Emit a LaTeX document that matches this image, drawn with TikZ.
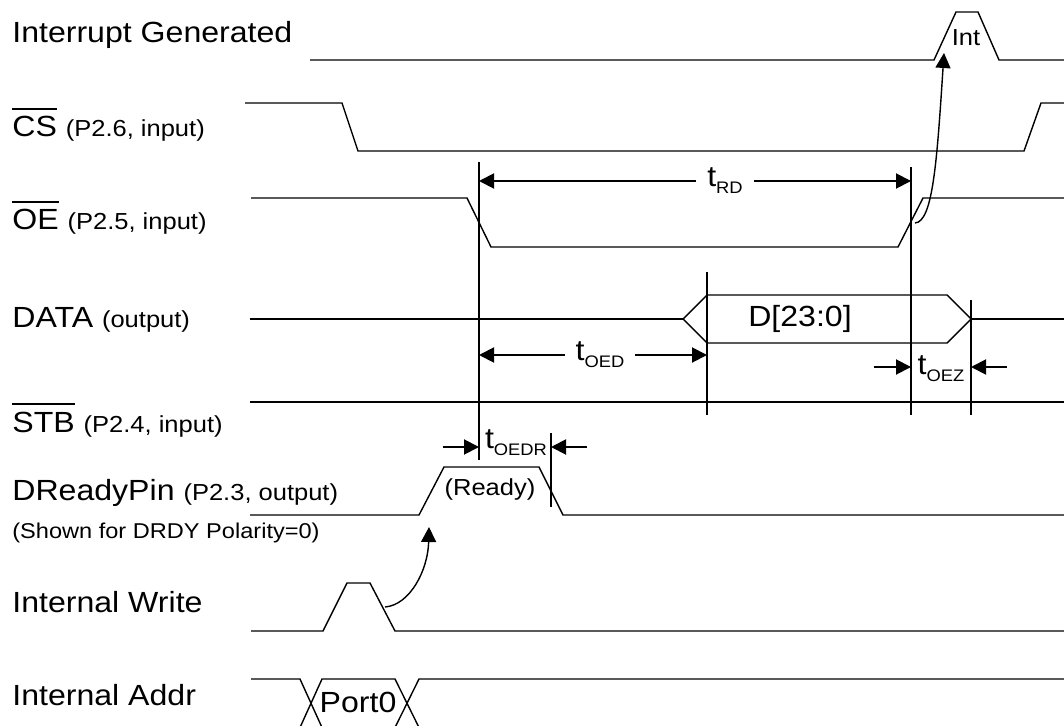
\documentclass[tikz,border=0pt]{standalone}
\usepackage{fontspec}
\setmainfont{Liberation Sans}[FakeStretch=1.1]
\usepackage{tikz}
\usetikzlibrary{arrows.meta}
\newcommand{\bigsz}{\fontsize{16.6pt}{19pt}\selectfont}
\newcommand{\pinsz}{\fontsize{13.2pt}{15pt}\selectfont}
\newcommand{\notesz}{\fontsize{12.2pt}{14pt}\selectfont}
\newcommand{\tsub}[1]{t\raisebox{-4pt}{\fontsize{9.5pt}{10pt}\selectfont #1}}
\newcommand{\ovl}[1]{\vbox{\hrule height 0.7pt\kern 4pt\hbox{#1}}}
\tikzset{
>={Triangle[length=0.3cm,width=0.3cm]}, % filled heads as in the sheet
wave/.style={line width=0.8pt, line join=miter}, % signal traces
marker/.style={line width=1.1pt}, % timing reference lines
dim/.style={->, line width=1.1pt},
signame/.style={anchor=base west, inner sep=0pt, font=\bigsz},
tlabel/.style={inner xsep=6pt, inner ysep=1pt, font=\bigsz},
}

\begin{document}
\begin{tikzpicture}[x=0.02cm, y=-0.02cm]
  \clip (0,0) rectangle (1064,726);

  % signal names
  \node[signame] (nint) at (12,43) {Interrupt Generated};
  \node[signame] (ncs) at (12,137) {\ovl{CS} {\pinsz (P2.6, input)}};
  \node[signame] (noe) at (12,230) {\ovl{OE} {\pinsz (P2.5, input)}};
  \node[signame] (ndata) at (12,327) {DATA {\pinsz (output)}};
  \node[signame] (nstb) at (12,432) {\ovl{STB} {\pinsz (P2.4, input)}};
  \node[signame] (nrdy) at (12,500) {DReadyPin {\pinsz (P2.3, output)}};
  \node[signame, font=\notesz] (npol) at (12,538) {(Shown for DRDY Polarity=0)};
  \node[signame] (nwr) at (12,612) {Internal Write};
  \node[signame] (naddr) at (12,705) {Internal Addr};

  % traces
  \draw[wave] (310,60) -- (934,60) -- (956,12) -- (978,12) -- (999,60) -- (1064,60);
  \draw[wave] (245,103) -- (342,103) -- (358,151) -- (1024,151) -- (1041,103) -- (1064,103);
  \draw[wave] (251,198) -- (467,198) -- (491,247) -- (898,247) -- (923,198) -- (1064,198);
  \draw[wave] (250,319) -- (683,319);
  \draw[wave] (683,319) -- (707,295) -- (947,295) -- (971,319) -- (947,343) -- (707,343) -- cycle;
  \draw[wave] (971,319) -- (1064,319);
  \draw[wave] (250,402) -- (1064,402);
  \draw[wave] (250,515) -- (419,515) -- (444,467) -- (539,467) -- (563,515) -- (1064,515);
  \draw[wave] (251,631) -- (323,631) -- (347,583) -- (370,583) -- (395,631) -- (1064,631);
  \draw[wave] (251,679) -- (300,679) -- (322,727.5) -- (395,727.5) -- (419,679) -- (1064,679);
  \draw[wave] (251,727.5) -- (300,727.5) -- (322,679) -- (395,679) -- (419,727.5) -- (1064,727.5);

  \node[font=\pinsz] (int) at (966,38) {Int};
  \node[font=\bigsz] (dbus) at (800,319) {D[23:0]};
  \node[font=\pinsz] (ready) at (490,489) {(Ready)};
  \node[font=\bigsz] (port) at (358,702) {Port0};

  % reference lines
  \draw[marker] (479,162) -- (479,460);
  \draw[marker] (911,167) -- (911,415);
  \draw[marker] (707,272) -- (707,415);
  \draw[marker] (971,300) -- (971,415);
  \draw[marker] (551,433) -- (551,507);

  % timing parameters
  \node[tlabel] (trd) at (725,181) {\tsub{RD}};
  \node[tlabel] (toed) at (600,355) {\tsub{OED}};
  \node[tlabel, inner xsep=0pt] (toez) at (941,369) {\tsub{OEZ}};
  \node[tlabel, inner xsep=0pt] (toedr) at (516,443) {\tsub{OEDR}};
  \coordinate (rdA) at (479,181);
  \coordinate (rdB) at (911,181);
  \coordinate (oedA) at (479,355);
  \coordinate (oedB) at (707,355);
  \coordinate (oezA) at (911,367);
  \coordinate (oezB) at (971,367);
  \coordinate (oezL) at (874,367);
  \coordinate (oezR) at (1007,367);
  \coordinate (drA) at (479,447);
  \coordinate (drB) at (551,447);
  \coordinate (drL) at (443,447);
  \coordinate (drR) at (587,447);

  \path[dim]
  (trd) edge (rdA) edge (rdB)
  (toed) edge (oedA) edge (oedB)
  (oezL) edge (oezA)
  (oezR) edge (oezB)
  (drL) edge (drA)
  (drR) edge (drB);

  % cause and effect
  \coordinate (oerise) at (915,223);
  \coordinate (inttip) at (944,53);
  \coordinate (wrfall) at (385,607);
  \coordinate (rdytip) at (429,527);
  \draw[->, line width=0.8pt] (oerise) .. controls (933,222) and (937,160) .. (inttip);
  \draw[->, line width=0.8pt] (wrfall) .. controls (410,605) and (428,570) .. (rdytip);
\end{tikzpicture}
\end{document}
